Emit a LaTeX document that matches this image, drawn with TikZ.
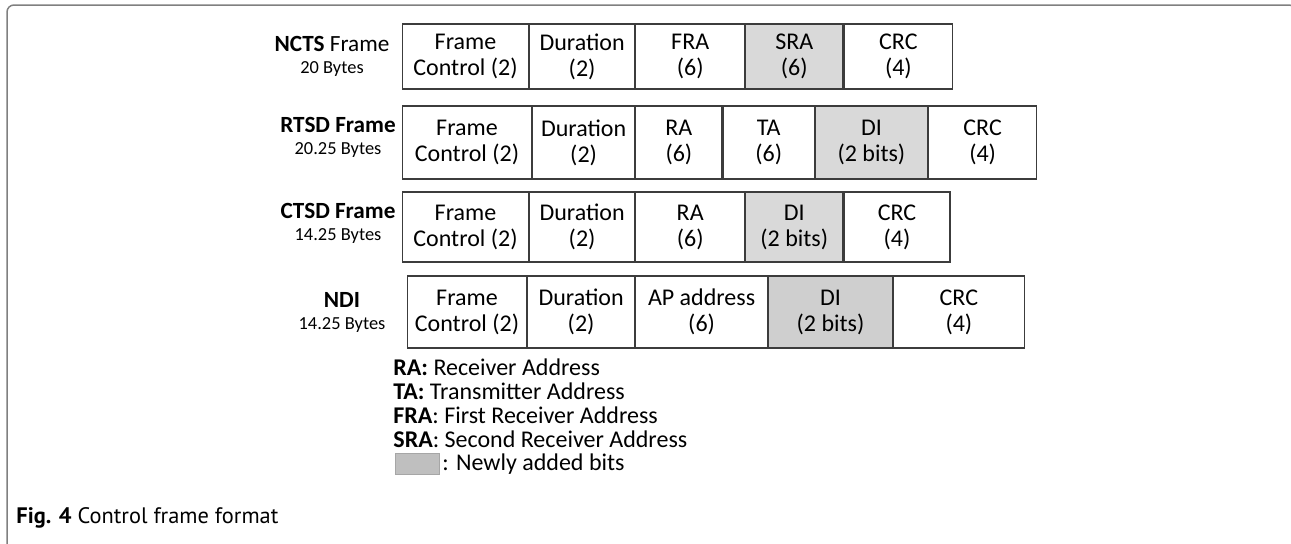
\documentclass[tikz,border=0pt]{standalone}
\usepackage{fontspec}
\setmainfont{Carlito}
\newfontfamily\captionfont{PT Sans}
\usetikzlibrary{positioning}
\definecolor{fieldgray}{HTML}{D9D9D9}
\definecolor{ndigray}{HTML}{CFCFCF}
\definecolor{swatchgray}{HTML}{BFBFBF}
\definecolor{bordergray}{HTML}{808080}
\definecolor{linegray}{HTML}{3C3C3C}

\tikzset{
    field/.style={draw=linegray, line width=0.6pt, inner sep=0pt, align=center,
        font=\fontsize{12}{13}\selectfont},
    ncts/.style={field, minimum height=32.5pt},
    rtsd/.style={field, minimum height=36.5pt},
    ctsd/.style={field, minimum height=35pt},
    ndi/.style={field, minimum height=36pt},
    newfield/.style={fill=fieldgray},
    framelabel/.style={align=center, inner sep=0pt, font=\fontsize{11.6}{12}\selectfont},
    legendtext/.style={anchor=west, inner sep=0pt, font=\fontsize{12}{12}\selectfont}
}

\begin{document}
\begin{tikzpicture}[x=0.5pt, y=-0.5pt]
    \useasboundingbox (0,0) rectangle (1291,543);

    % outer frame of the figure
    \draw[bordergray, line width=0.75pt, rounded corners=3.5pt] (7,560) -- (7,5) -- (1296,5) -- (1296,560);

    % NCTS frame
    \node[framelabel] (nctsLabel) at (332,56) {\textbf{NCTS} Frame\\[-1pt]{\fontsize{9.2}{12}\selectfont 20 Bytes}};
    \node[ncts, minimum width=62.9pt, anchor=west] (nctsFC) at (402,56.5) {Frame\\Control (2)};
    \node[ncts, minimum width=52.5pt, right=0pt of nctsFC] (nctsDur) {Duration\\(2)};
    \node[ncts, minimum width=54.4pt, right=0pt of nctsDur] (nctsFRA) {FRA\\(6)};
    \node[ncts, newfield, minimum width=48.5pt, right=0pt of nctsFRA] (nctsSRA) {SRA\\(6)};
    \node[ncts, minimum width=54.4pt, right=0pt of nctsSRA] (nctsCRC) {CRC\\(4)};

    % RTSD frame
    \node[framelabel] (rtsdLabel) at (338,137) {\textbf{RTSD Frame}\\[-1pt]{\fontsize{9.2}{12}\selectfont 20.25 Bytes}};
    \node[rtsd, minimum width=64.4pt, anchor=west] (rtsdFC) at (402,142.5) {Frame\\Control (2)};
    \node[rtsd, minimum width=51pt, right=0pt of rtsdFC] (rtsdDur) {Duration\\(2)};
    \node[rtsd, minimum width=43.1pt, right=0pt of rtsdDur] (rtsdRA) {RA\\(6)};
    \node[rtsd, minimum width=45.5pt, right=0pt of rtsdRA] (rtsdTA) {TA\\(6)};
    \node[rtsd, newfield, minimum width=56pt, right=0pt of rtsdTA] (rtsdDI) {DI\\(2 bits)};
    \node[rtsd, minimum width=54pt, right=0pt of rtsdDI] (rtsdCRC) {CRC\\(4)};

    % CTSD frame
    \node[framelabel] (ctsdLabel) at (338,223) {\textbf{CTSD Frame}\\[-1pt]{\fontsize{9.2}{12}\selectfont 14.25 Bytes}};
    \node[ctsd, minimum width=62.9pt, anchor=west] (ctsdFC) at (402,227) {Frame\\Control (2)};
    \node[ctsd, minimum width=52.5pt, right=0pt of ctsdFC] (ctsdDur) {Duration\\(2)};
    \node[ctsd, minimum width=54.4pt, right=0pt of ctsdDur] (ctsdRA) {RA\\(6)};
    \node[ctsd, newfield, minimum width=48.5pt, right=0pt of ctsdRA] (ctsdDI) {DI\\(2 bits)};
    \node[ctsd, minimum width=53pt, right=0pt of ctsdDI] (ctsdCRC) {CRC\\(4)};

    % NDI frame
    \node[framelabel] (ndiLabel) at (342,312) {\textbf{NDI}\\[-1pt]{\fontsize{9.2}{12}\selectfont 14.25 Bytes}};
    \node[ndi, minimum width=59.4pt, anchor=west] (ndiFC) at (407,312) {Frame\\Control (2)};
    \node[ndi, minimum width=53.5pt, right=0pt of ndiFC] (ndiDur) {Duration\\(2)};
    \node[ndi, minimum width=65.8pt, right=0pt of ndiDur] (ndiAP) {AP address\\(6)};
    \node[ndi, fill=ndigray, minimum width=61.9pt, right=0pt of ndiAP] (ndiDI) {DI\\(2 bits)};
    \node[ndi, minimum width=65.3pt, right=0pt of ndiDI] (ndiCRC) {CRC\\(4)};

    % legend
    \node[legendtext] (legRA) at (393,367) {\textbf{RA:} Receiver Address};
    \node[legendtext] (legTA) at (393,391) {\textbf{TA:} Transmitter Address};
    \node[legendtext] (legFRA) at (393,415) {\textbf{FRA}: First Receiver Address};
    \node[legendtext] (legSRA) at (393,439) {\textbf{SRA}: Second Receiver Address};
    \node[draw=gray!70, fill=swatchgray, line width=0.5pt, minimum width=22pt, minimum height=10.5pt,
        inner sep=0pt, anchor=west] (legSwatch) at (395,464) {};
    \node[legendtext, right=1pt of legSwatch] (legNew) {: Newly added bits};

    % caption
    \node[anchor=west, inner sep=0pt, font=\captionfont\fontsize{11.2}{12}\selectfont] (figCaption) at (16,518)
        {\textbf{Fig. 4} Control frame format};
\end{tikzpicture}
\end{document}
